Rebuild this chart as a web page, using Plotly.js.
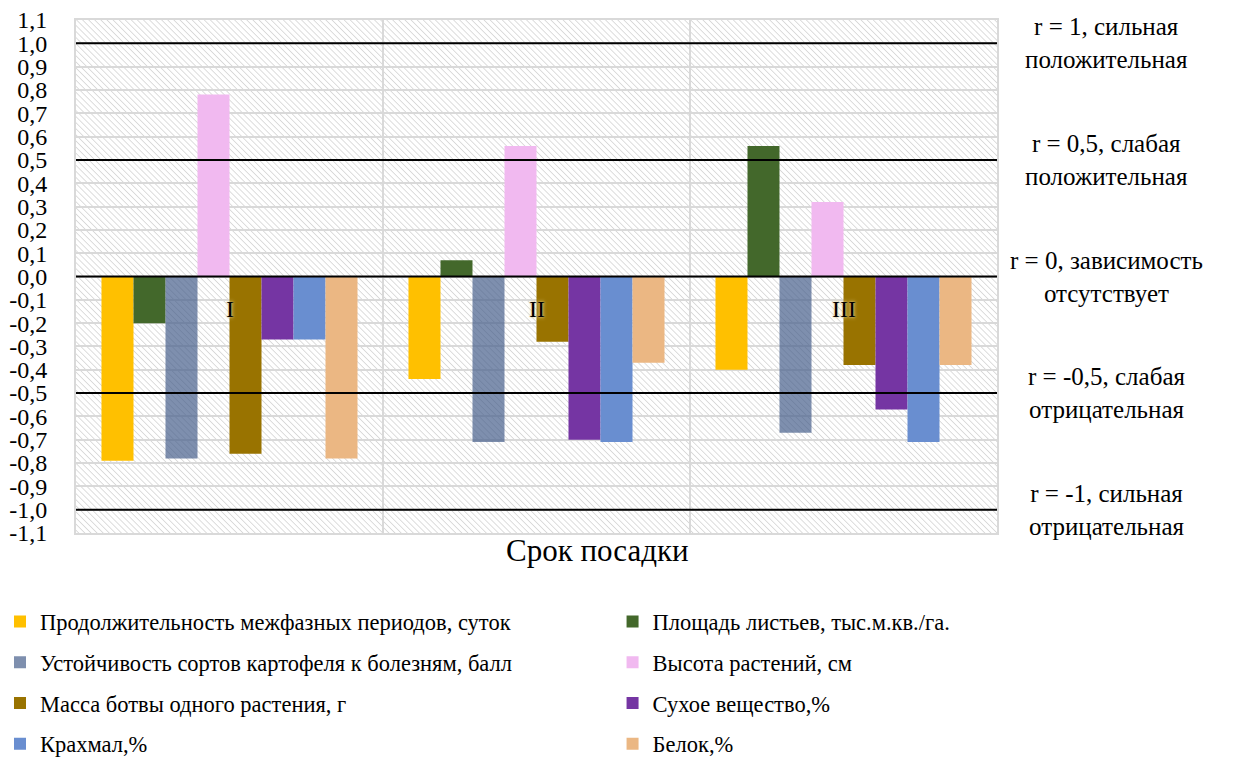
<!DOCTYPE html>
<html>
<head>
<meta charset="utf-8">
<script src="https://cdn.plot.ly/plotly-3.0.1.min.js"></script>
<style>html,body{margin:0;padding:0;background:#fff;}#chart{width:1235px;height:758px;}</style>
</head>
<body>
<div id="chart"></div>
<script>
// ---- data ----
const categories = ['I', 'II', 'III'];
const seriesNames = [
  'Продолжительность межфазных периодов, суток',
  'Площадь листьев, тыс.м.кв./га.',
  'Устойчивость сортов картофеля к болезням, балл',
  'Высота растений, см',
  'Масса ботвы одного растения, г',
  'Сухое вещество,%',
  'Крахмал,%',
  'Белок,%'
];
const durationValues = [-0.79, -0.44, -0.40];
const leafAreaValues = [-0.20, 0.07, 0.56];
const resistanceValues = [-0.78, -0.71, -0.67];
const heightValues = [0.78, 0.56, 0.32];
const topsMassValues = [-0.76, -0.28, -0.38];
const dryMatterValues = [-0.27, -0.70, -0.57];
const starchValues = [-0.27, -0.71, -0.71];
const proteinValues = [-0.78, -0.37, -0.38];
const seriesValues = [durationValues, leafAreaValues, resistanceValues, heightValues,
                      topsMassValues, dryMatterValues, starchValues, proteinValues];

const refLevels = [1, 0.5, 0, -0.5, -1];
const refLabels = [
  'r = 1, сильная<br>положительная',
  'r = 0,5, слабая<br>положительная',
  'r = 0, зависимость<br>отсутствует',
  'r = -0,5, слабая<br>отрицательная',
  'r = -1, сильная<br>отрицательная'
];
const yTickVals = [1.1,1.0,0.9,0.8,0.7,0.6,0.5,0.4,0.3,0.2,0.1,0,-0.1,-0.2,-0.3,-0.4,-0.5,-0.6,-0.7,-0.8,-0.9,-1.0,-1.1];
const yTickText = ['1,1','1,0','0,9','0,8','0,7','0,6','0,5','0,4','0,3','0,2','0,1','0,0','-0,1','-0,2','-0,3','-0,4','-0,5','-0,6','-0,7','-0,8','-0,9','-1,0','-1,1'];
const xTitle = 'Срок посадки';

// ---- styles ----
const seriesColors = ['#FFC000', '#43682B', 'rgba(71,95,139,0.7)', '#F1B9F0',
                      '#997300', '#7535A3', '#698ED0', '#EBB783'];
const FONT = "'Liberation Serif', 'DejaVu Serif', serif";

const W = 1235, H = 758;
const M = {l: 76, r: 238, t: 20, b: 225};
const PW = W - M.l - M.r, PH = H - M.t - M.b;
const px2x = p => (p - M.l) / PW;
const px2y = p => (H - M.b - p) / PH;

const traces = seriesNames.map((name, i) => ({
  type: 'bar',
  name: name,
  x: categories,
  y: seriesValues[i],
  marker: {color: seriesColors[i], line: {width: 0}},
  legend: i % 2 === 0 ? 'legend' : 'legend2',
  legendgroup: 'g' + i,
  hoverinfo: 'x+y+name'
}));

const hatchSvg = "<svg xmlns='http://www.w3.org/2000/svg' width='" + PW + "' height='" + PH + "'>" +
  "<defs><pattern id='h' width='4.3' height='4.3' patternUnits='userSpaceOnUse' patternTransform='rotate(-45)'>" +
  "<line x1='0' y1='0' x2='0' y2='4.3' stroke='#d2d2d2' stroke-width='1.5'/></pattern></defs>" +
  "<rect width='100%' height='100%' fill='url(#h)'/></svg>";

const shapes = refLevels.map(v => ({
  type: 'line', xref: 'paper', x0: 0, x1: 1, yref: 'y', y0: v, y1: v,
  line: {color: '#000', width: 2}, layer: 'above'
}));

const annotations = refLevels.map((v, i) => ({
  xref: 'paper', yref: 'y', x: px2x(1106), y: v, text: refLabels[i],
  showarrow: false, xanchor: 'center', yanchor: 'middle', align: 'center',
  font: {family: FONT, size: 25, color: '#000'}
})).concat(categories.map(c => ({
  xref: 'x', yref: 'y', x: c, y: -0.14, text: c, showarrow: false,
  xanchor: 'center', yanchor: 'middle',
  font: {family: FONT, size: 24, color: '#000', shadow: '0 0 2px #d8c07a, 0 0 4px #efe0a8'}
}))).concat([{
  xref: 'paper', yref: 'paper', x: px2x(597), y: px2y(550), text: xTitle,
  showarrow: false, xanchor: 'center', yanchor: 'middle',
  font: {family: FONT, size: 31, color: '#000'}
}]);

const legendCommon = {
  orientation: 'v', xanchor: 'left', yanchor: 'top',
  xref: 'container', yref: 'container',
  bgcolor: 'rgba(0,0,0,0)', borderwidth: 0,
  font: {family: FONT, size: 22.5, color: '#000'},
  tracegroupgap: 8.5, itemwidth: 30
};

const layout = {
  width: W, height: H,
  margin: Object.assign({autoexpand: false}, M),
  paper_bgcolor: '#fff',
  plot_bgcolor: 'rgba(0,0,0,0)',
  font: {family: FONT, color: '#000'},
  barmode: 'group',
  bargap: 0.166,
  bargroupgap: 0,
  showlegend: true,
  legend: Object.assign({}, legendCommon, {x: 0, y: 0.208}),
  legend2: Object.assign({}, legendCommon, {x: 0.496, y: 0.208}),
  xaxis: {
    type: 'category', range: [-0.5, 2.5], tickson: 'boundaries',
    showgrid: true, gridcolor: '#d9d9d9', gridwidth: 2,
    showticklabels: false, ticks: '', automargin: false,
    showline: true, mirror: true, linecolor: '#d9d9d9', linewidth: 2,
    zeroline: false, fixedrange: true
  },
  yaxis: {
    range: [-1.1, 1.1], tickvals: yTickVals, ticktext: yTickText, automargin: false,
    showgrid: true, gridcolor: '#d9d9d9', gridwidth: 2,
    showline: true, mirror: true, linecolor: '#d9d9d9', linewidth: 2,
    zeroline: false, ticks: 'outside', ticklen: 22, tickcolor: 'rgba(0,0,0,0)',
    tickfont: {family: FONT, size: 24, color: '#000'}, fixedrange: true
  },
  images: [{
    source: 'data:image/svg+xml;charset=utf-8,' + encodeURIComponent(hatchSvg),
    xref: 'paper', yref: 'paper', x: 0, y: 1, sizex: 1, sizey: 1,
    xanchor: 'left', yanchor: 'top', sizing: 'stretch', layer: 'below'
  }],
  shapes: shapes,
  annotations: annotations
};

Plotly.newPlot('chart', traces, layout, {displayModeBar: false});
</script>
</body>
</html>
